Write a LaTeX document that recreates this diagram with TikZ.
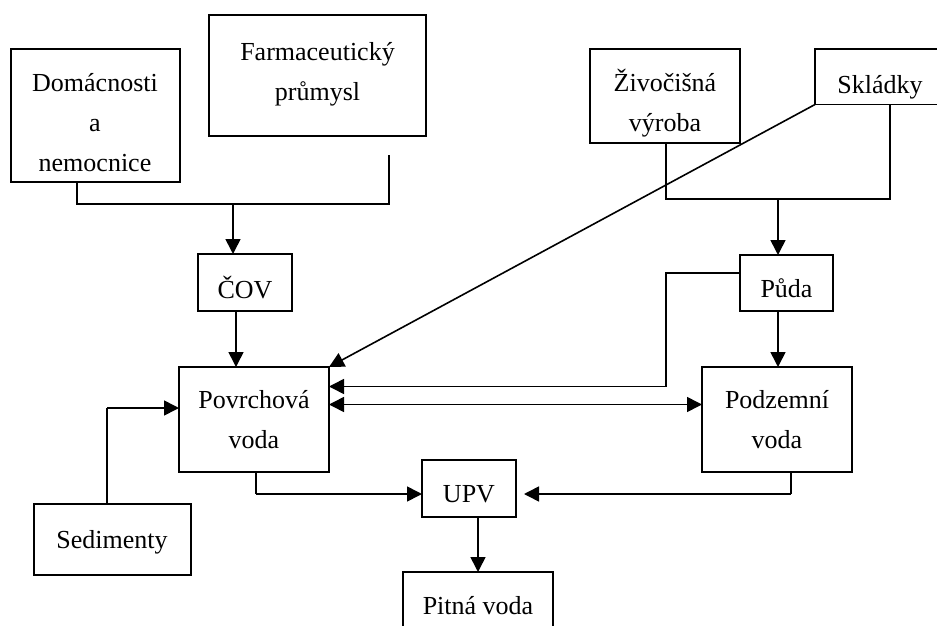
\documentclass[tikz,border=0pt]{standalone}
\usepackage{fontspec}
\setmainfont{Liberation Serif}
\usetikzlibrary{arrows.meta}
\begin{document}
\begin{tikzpicture}[x=1pt,y=-1pt,
  box/.style={draw, line width=1.6pt, inner sep=0pt, outer sep=0pt},
  txt/.style={inner sep=0pt, align=center, font=\fontsize{26}{40}\selectfont},
  link/.style={line width=1.6pt},
  arr/.style={line width=1.6pt, -{Triangle[length=15pt,width=15pt]}},
  darr/.style={line width=1.6pt, {Triangle[length=15pt,width=15pt]}-{Triangle[length=15pt,width=15pt]}}]
\useasboundingbox (0,0) rectangle (937,626);
\clip (0,0) rectangle (937,626);
% boxes
\node[box, minimum width=169pt, minimum height=133pt] (dom) at (95.5,115.5) {};
\node[box, minimum width=217pt, minimum height=121pt] (farm) at (317.5,75.5) {};
\node[box, minimum width=150pt, minimum height=94pt] (ziv) at (665,96) {};
\node[box, minimum width=145pt, minimum height=55.5pt] (sklad) at (887.5,76.75) {};
\node[box, minimum width=94pt, minimum height=57pt] (cov) at (245,282.5) {};
\node[box, minimum width=93pt, minimum height=56pt] (puda) at (786.5,283) {};
\node[box, minimum width=150pt, minimum height=105pt] (povr) at (254,419.5) {};
\node[box, minimum width=150pt, minimum height=105pt] (podz) at (777,419.5) {};
\node[box, minimum width=94pt, minimum height=57pt] (upv) at (469,488.5) {};
\node[box, minimum width=157pt, minimum height=71pt] (sed) at (112.5,539.5) {};
\node[box, minimum width=150pt, minimum height=78pt] (pitna) at (478,611) {};
% texts
\node[txt] (domT) at (95,123) {Domácnosti\\a\\nemocnice};
\node[txt] (farmT) at (317.5,74) {Farmaceutický\\průmysl};
\node[txt] (zivT) at (665,103) {Živočišná\\výroba};
\node[txt] (skladT) at (880,87) {Skládky};
\node[txt] (covT) at (245,288) {ČOV};
\node[txt] (pudaT) at (786.5,288) {Půda};
\node[txt] (povrT) at (254,420) {Povrchová\\voda};
\node[txt] (podzT) at (777,420) {Podzemní\\voda};
\node[txt] (upvT) at (469,494) {UPV};
\node[txt] (sedT) at (112,542) {Sedimenty};
\node[txt] (pitnaT) at (478,606) {Pitná voda};
% helper coordinates
\coordinate (a1) at (77,204);
\coordinate (a2) at (389,204);
\coordinate (a3) at (389,155);
\coordinate (a4) at (233,204);
\coordinate (xc) at (236,0);
\coordinate (b1) at (666,199);
\coordinate (b2) at (890,199);
\coordinate (b3) at (778,199);
\coordinate (p1) at (666,273);
\coordinate (p2) at (666,386.5);
\coordinate (yd) at (0,404.5);
\coordinate (s1) at (107,408);
\coordinate (u1) at (256,494);
\coordinate (u2) at (791,494);
\coordinate (xu) at (478,0);
% connectors
\draw[link] (dom.south -| a1) -- (a1) -- (a2) -- (a3);
\draw[arr] (a4) -- (a4 |- cov.north);
\draw[arr] (cov.south -| xc) -- (povr.north -| xc);
\draw[link] (ziv.south -| b1) -- (b1) -- (b2) -- (sklad.south -| b2);
\draw[arr] (b3) -- (b3 |- puda.north);
\draw[link] (puda.west |- p1) -- (p1) -- (p2);
\draw[arr] (p2) -- (povr.east |- p2);
\draw[arr] (sklad.south west) -- (povr.north east);
\draw[darr] (povr.east |- yd) -- (podz.west |- yd);
\draw[arr] (puda.south -| b3) -- (podz.north -| b3);
\draw[link] (sed.north -| s1) -- (s1);
\draw[arr] (s1) -- (povr.west |- s1);
\draw[link] (povr.south -| u1) -- (u1);
\draw[arr] (u1) -- (upv.west |- u1);
\draw[link] (podz.south -| u2) -- (u2);
\draw[arr, shorten >=8pt] (u2) -- (upv.east |- u2);
\draw[arr] (upv.south -| xu) -- (pitna.north -| xu);
\end{tikzpicture}
\end{document}
